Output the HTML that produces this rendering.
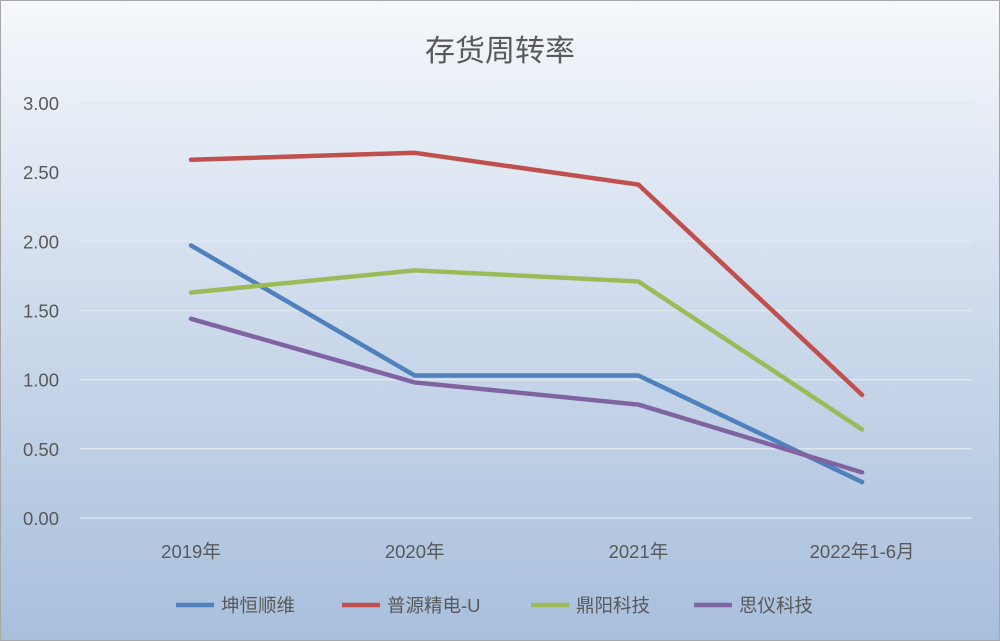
<!DOCTYPE html>
<html><head><meta charset="utf-8"><style>
body{margin:0;width:1000px;height:641px;overflow:hidden}
svg{display:block;font-family:"Liberation Sans","Noto Sans CJK SC",sans-serif}
</style></head><body>
<svg width="1000" height="641">
<defs><linearGradient id="bg" x1="0" y1="0" x2="0" y2="1">
<stop offset="0" stop-color="#f5f8fc"/><stop offset="0.55" stop-color="#c9d7ea"/><stop offset="1" stop-color="#a8bfdc"/></linearGradient></defs>
<rect x="0.5" y="0.5" width="999" height="640" fill="url(#bg)" stroke="#a6a6a6"/>
<text x="500" y="61" text-anchor="middle" font-size="30" fill="#595959">存货周转率</text>
<g id="grid"></g><g id="ylab"></g><g id="xlab"></g><g id="lines"></g><g id="legend"></g>
</svg>
<script>
const categories=["2019年","2020年","2021年","2022年1-6月"];
const seriesNames=["坤恒顺维","普源精电-U","鼎阳科技","思仪科技"];
const s1=[1.97,1.03,1.03,0.26];
const s2=[2.59,2.64,2.41,0.89];
const s3=[1.63,1.79,1.71,0.64];
const s4=[1.44,0.98,0.82,0.33];
const yTicks=[0,0.5,1,1.5,2,2.5,3];
const colors=["#4f81bd","#c0504d","#9bbb59","#8064a2"];
const NS="http://www.w3.org/2000/svg";
const y=v=>518-v*(415/3);
const x=i=>191+i*223.7;
function mk(t,a,p){const e=document.createElementNS(NS,t);for(const k in a)e.setAttribute(k,a[k]);p.appendChild(e);return e;}
const grid=document.getElementById('grid'),yl=document.getElementById('ylab'),xl=document.getElementById('xlab'),ln=document.getElementById('lines'),lg=document.getElementById('legend');
yTicks.forEach(v=>{
 const l=mk('line',{x1:80,x2:972,y1:y(v),y2:y(v),stroke:"#e3e8ef","stroke-width":1.3},grid);
 
 
 const t=mk('text',{x:59,y:y(v)+7,"text-anchor":"end","font-size":18.5,fill:"#595959"},yl);
 t.textContent=v.toFixed(2);
 
 
});
categories.forEach((c,i)=>{
 const t=mk('text',{x:x(i),y:558,"text-anchor":"middle","font-size":18.5,fill:"#595959"},xl);
 t.textContent=c;
 
 
});
[s1,s2,s3,s4].forEach((s,k)=>{
 const p=mk('polyline',{points:s.map((v,i)=>x(i)+","+y(v)).join(" "),fill:"none",stroke:colors[k],"stroke-width":4.5,"stroke-linejoin":"round","stroke-linecap":"round"},ln);
 
 
});
const lx=[176,342,531,694];
seriesNames.forEach((n,k)=>{
 const g=mk('g',{},lg);
 
 
 mk('line',{x1:lx[k],x2:lx[k]+38,y1:605,y2:605,stroke:colors[k],"stroke-width":4.5},g);
 const t=mk('text',{x:lx[k]+45,y:612,"font-size":18.5,fill:"#595959"},g);
 t.textContent=n;
});
</script>
</body></html>
